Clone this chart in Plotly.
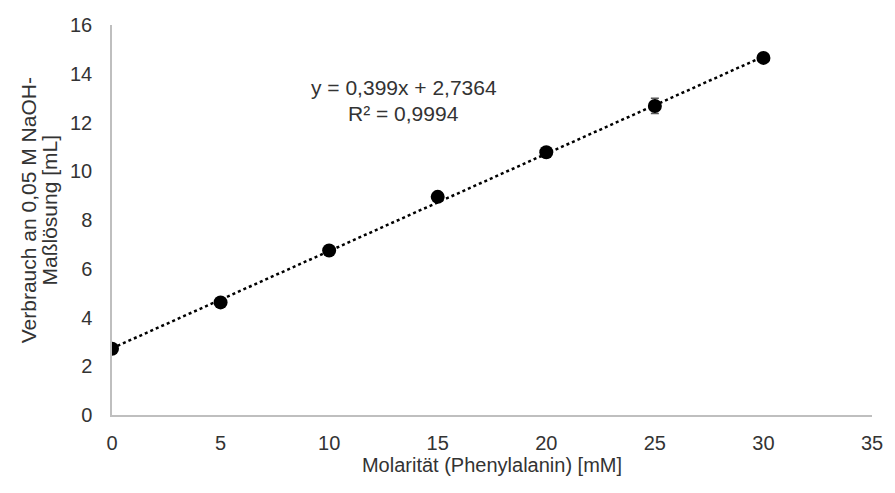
import plotly.graph_objects as go

# Titration data: phenylalanine molarity vs. NaOH consumption
molarity = [0, 5, 10, 15, 20, 25, 30]
volume = [2.72, 4.62, 6.75, 8.95, 10.78, 12.68, 14.65]
volume_err = [0.05, 0.05, 0.06, 0.08, 0.06, 0.31, 0.05]

# Linear trendline parameters
slope = 0.399
intercept = 2.7364
r_squared = 0.9994

x_ticks = [0, 5, 10, 15, 20, 25, 30, 35]
y_ticks = [0, 2, 4, 6, 8, 10, 12, 14, 16]

y_title_lines = ["Verbrauch an 0,05 M NaOH-", "Maßlösung [mL]"]
x_title = "Molarität (Phenylalanin) [mM]"

trend_x = [molarity[0], molarity[-1]]
trend_y = [slope * x + intercept for x in trend_x]

font_family = "Liberation Sans, Arial, sans-serif"
text_color = "#333333"

fig = go.Figure()

fig.add_trace(go.Scatter(
    x=trend_x, y=trend_y, mode="lines",
    line=dict(color="black", width=2.5, dash="dot"),
    hoverinfo="skip", showlegend=False,
))

fig.add_trace(go.Scatter(
    x=molarity, y=volume, mode="markers",
    marker=dict(color="black", size=14),
    error_y=dict(type="data", array=volume_err, visible=True,
                 color="#595959", thickness=1.5, width=4),
    showlegend=False,
))

# Trendline equation, one annotation per line for tight line spacing
fmt = lambda v: f"{v}".replace(".", ",")
eq_lines = [f"y = {fmt(slope)}x + {fmt(intercept)}", f"R² = {fmt(r_squared)}"]
for text, yv in zip(eq_lines, [13.42, 12.35]):
    fig.add_annotation(
        x=13.44, y=yv, xref="x", yref="y", showarrow=False, text=text,
        font=dict(family=font_family, size=21, color=text_color),
        xanchor="center", yanchor="middle",
    )

# Two-line rotated y-axis title
for text, xp in zip(y_title_lines, [-0.110, -0.082]):
    fig.add_annotation(
        x=xp, y=0.526, xref="paper", yref="paper", showarrow=False,
        text=text, textangle=-90,
        font=dict(family=font_family, size=21, color=text_color),
        xanchor="center", yanchor="middle",
    )

fig.update_xaxes(
    range=[0, 35], tickvals=x_ticks, ticktext=[str(t) for t in x_ticks],
    showline=True, linecolor="#BFBFBF", linewidth=1.5,
    showgrid=False, zeroline=False,
    ticks="outside", ticklen=9, tickcolor="rgba(0,0,0,0)",
    tickfont=dict(family=font_family, size=20, color=text_color),
    title=dict(text=x_title,
               font=dict(family=font_family, size=20, color=text_color),
               standoff=5),
)
fig.update_yaxes(
    range=[0, 16], tickvals=y_ticks, ticktext=[str(t) for t in y_ticks],
    showline=True, linecolor="#BFBFBF", linewidth=1.5,
    showgrid=False, zeroline=False,
    ticks="outside", ticklen=14, tickcolor="rgba(0,0,0,0)",
    tickfont=dict(family=font_family, size=20, color=text_color),
)

fig.update_layout(
    width=895, height=493,
    margin=dict(l=112, r=20, t=25, b=78),
    plot_bgcolor="white", paper_bgcolor="white",
)

fig.write_html("out.html")
